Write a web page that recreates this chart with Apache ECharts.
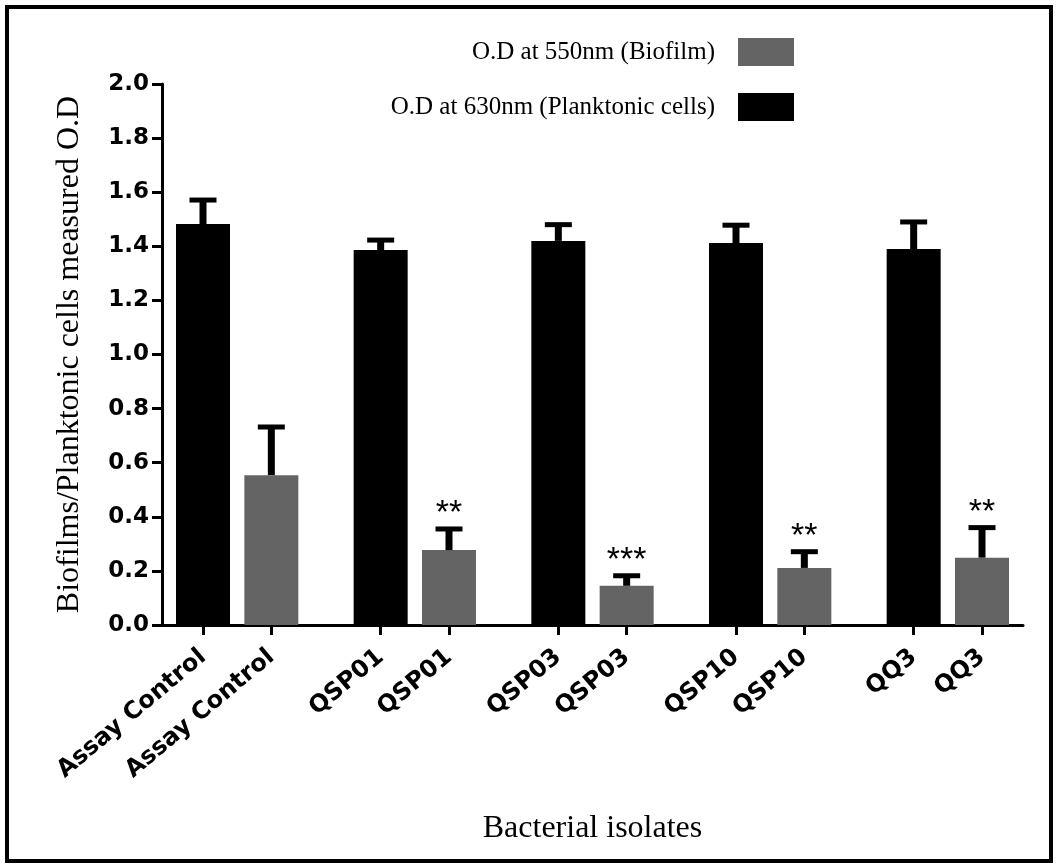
<!DOCTYPE html>
<html><head><meta charset="utf-8">
<script src="https://cdn.jsdelivr.net/npm/echarts@6/dist/echarts.min.js"></script>
<style>html,body{margin:0;padding:0;background:#fff}#c{width:1057px;height:867px}</style>
</head><body><div id="c"></div><script>
// ---- data ----
const groups = ['Assay Control', 'QSP01', 'QSP03', 'QSP10', 'QQ3'];
const biofilm = [0.554, 0.277, 0.145, 0.211, 0.249];        // O.D at 550nm
const biofilmErr = [0.178, 0.078, 0.037, 0.060, 0.111];
const planktonic = [1.482, 1.386, 1.420, 1.412, 1.390];     // O.D at 630nm
const planktonicErr = [0.089, 0.037, 0.060, 0.066, 0.100];
const stars = ['', '**', '***', '**', '**'];
const seriesNames = ['O.D at 550nm (Biofilm)', 'O.D at 630nm (Planktonic cells)'];

// ---- category slots (spacers give GraphPad-like grouped spacing) ----
const LEAD = 3, PAIR = 5, STEP = 13, TRAIL = 3;
const nSlots = LEAD + STEP * (groups.length - 1) + PAIR + 1 + TRAIL;
const cats = new Array(nSlots).fill('');
const blackData = new Array(nSlots).fill(null);
const grayData = new Array(nSlots).fill(null);
const errData = [], errStars = [];
groups.forEach((g, i) => {
  const b = LEAD + STEP * i, gr = b + PAIR;
  cats[b] = g; cats[gr] = g;
  blackData[b] = planktonic[i];
  grayData[gr] = biofilm[i];
  errData.push([b, planktonic[i], planktonicErr[i]]); errStars.push('');
  errData.push([gr, biofilm[i], biofilmErr[i]]); errStars.push(stars[i]);
});

const chart = echarts.init(document.getElementById('c'), null, {renderer: 'canvas'});
const sans = 'DejaVu Sans';
const serif = 'Liberation Serif';
chart.setOption({
  backgroundColor: '#fff',
  animation: false,
  graphic: [{
    type: 'rect', silent: true,
    shape: {x: 7, y: 7, width: 1044, height: 854},
    style: {fill: 'none', stroke: '#000', lineWidth: 4}
  }],
  legend: {
    data: seriesNames,
    orient: 'vertical', align: 'right',
    right: 258, top: 33,
    itemWidth: 56, itemHeight: 28, itemGap: 27,
    icon: 'rect', selectedMode: false,
    textStyle: {fontFamily: serif, fontSize: 25, color: '#000', padding: [0, 18, 0, 0]}
  },
  grid: {left: 162, right: 34, top: 84, bottom: 242, containLabel: false},
  xAxis: {
    type: 'category', data: cats, boundaryGap: false,
    name: 'Bacterial isolates', nameLocation: 'middle', nameGap: 188,
    nameTextStyle: {fontFamily: serif, fontSize: 32, color: '#000'},
    axisLine: {lineStyle: {color: '#000', width: 3}},
    axisTick: {show: true, length: 10, lineStyle: {color: '#000', width: 3},
      interval: (idx, val) => val !== ''},
    axisLabel: {interval: (idx, val) => val !== '', rotate: 40, margin: 29,
      fontFamily: sans, fontWeight: 'bold', fontSize: 24, color: '#000'},
    splitLine: {show: false}
  },
  yAxis: {
    type: 'value', min: 0, max: 2.0, interval: 0.2,
    name: 'Biofilms/Planktonic cells measured O.D', nameLocation: 'middle', nameGap: 76,
    nameTextStyle: {fontFamily: serif, fontSize: 32, color: '#000'},
    axisLine: {show: true, lineStyle: {color: '#000', width: 3}},
    axisTick: {show: true, length: 10, lineStyle: {color: '#000', width: 3}},
    axisLabel: {formatter: v => v.toFixed(1), margin: 13,
      fontFamily: sans, fontWeight: 'bold', fontSize: 23, color: '#000'},
    splitLine: {show: false}
  },
  series: [
    {name: seriesNames[0], type: 'bar', data: grayData, barWidth: 54, barMinWidth: 54,
     barGap: '-100%', itemStyle: {color: '#646464'}},
    {name: seriesNames[1], type: 'bar', data: blackData, barWidth: 54, barMinWidth: 54,
     barGap: '-100%', itemStyle: {color: '#000'}},
    {type: 'custom', z: 5, data: errData,
     encode: {x: 0, y: [1, 2]},
     renderItem: (params, api) => {
       const x = api.value(0), v = api.value(1), e = api.value(2);
       const base = api.coord([x, v]);
       const top = api.coord([x, v + e]);
       const hw = 13.5;
       const star = errStars[params.dataIndex];
       const children = [
         {type: 'line', shape: {x1: base[0], y1: base[1], x2: base[0], y2: top[1]},
          style: {stroke: '#000', lineWidth: 7}},
         {type: 'line', shape: {x1: base[0] - hw, y1: top[1], x2: base[0] + hw, y2: top[1]},
          style: {stroke: '#000', lineWidth: 5}}
       ];
       if (star) {
         children.push({type: 'text', style: {text: star, x: base[0], y: top[1] + 2,
           align: 'center', verticalAlign: 'bottom', textAlign: 'center', textVerticalAlign: 'bottom',
           font: '34px "Liberation Sans"', fill: '#000'}});
       }
       return {type: 'group', children};
     }}
  ]
});
</script></body></html>
